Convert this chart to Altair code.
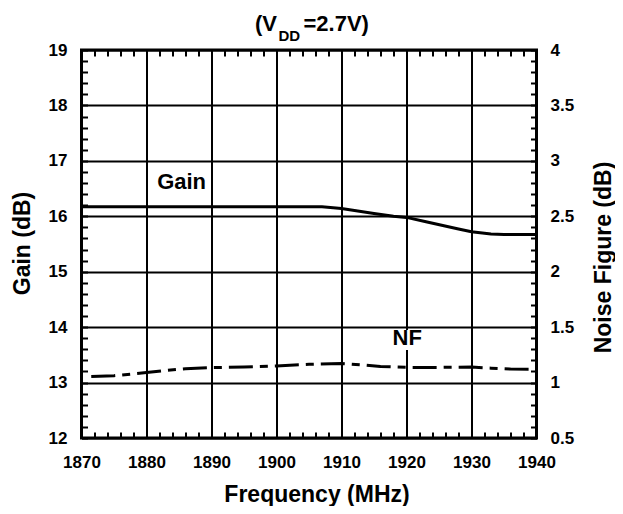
import altair as alt
import pandas as pd

FONT = "Liberation Sans"

# Gain curve (dB) vs frequency (MHz)
freq_gain = [1870, 1875, 1880, 1885, 1890, 1895, 1900, 1905, 1907, 1910, 1915,
             1918, 1920, 1923, 1928, 1930, 1933, 1935, 1940]
gain_db = [16.17, 16.17, 16.17, 16.17, 16.17, 16.17, 16.17, 16.17, 16.17, 16.14,
           16.05, 16.0, 15.98, 15.9, 15.77, 15.72, 15.68, 15.67, 15.67]

# Noise figure curve (dB) vs frequency (MHz)
freq_nf = [1871.5, 1875, 1880, 1883, 1886, 1890, 1895, 1900, 1905, 1910, 1913,
           1916, 1920, 1925, 1930, 1933, 1936, 1940]
nf_db = [1.055, 1.062, 1.09, 1.11, 1.125, 1.135, 1.14, 1.15, 1.165, 1.173, 1.16,
         1.145, 1.137, 1.137, 1.14, 1.13, 1.122, 1.12]

# In-plot curve labels
label_text = ["Gain", "NF"]
label_freq = [1885.4, 1920.1]
label_gain = [16.49, 13.68]

# Title pieces
title_parts = ["(V", "DD", "=2.7V)"]

# Axis ticks
x_ticks = list(range(1870, 1941, 10))
gain_ticks = list(range(12, 20))
nf_ticks = [0.5, 1, 1.5, 2, 2.5, 3, 3.5, 4]
x_minor = list(range(1870, 1941, 2))
gain_minor = [round(12 + 0.2 * i, 1) for i in range(36)]

gain_df = pd.DataFrame({"freq": freq_gain, "gain": gain_db})
nf_df = pd.DataFrame({"freq": freq_nf, "nf": nf_db})
lab_df = pd.DataFrame({"label": label_text, "freq": label_freq, "gain": label_gain})

xs = alt.Scale(domain=[1870, 1940], nice=False, zero=False)
gs = alt.Scale(domain=[12, 19], nice=False, zero=False)
ns = alt.Scale(domain=[0.5, 4], nice=False, zero=False)

lab_style = dict(labelFont=FONT, labelFontSize=17, labelFontWeight="bold",
                 labelColor="black", labelOverlap=False, labelFlush=False)
title_style = dict(titleFont=FONT, titleFontSize=23, titleFontWeight="bold",
                   titleColor="black")
grid_style = dict(grid=True, gridColor="black", gridWidth=2, gridOpacity=1)

x_main = alt.Axis(orient="bottom", values=x_ticks, format="d", ticks=False, domain=False,
                  labelPadding=29, labelBaseline="alphabetic",
                  title="Frequency (MHz)", titleX=235, titleY=63, titleAlign="center",
                  titleBaseline="alphabetic", **lab_style, **title_style, **grid_style)
y_main = alt.Axis(orient="left", values=gain_ticks, format="d", ticks=False, domain=False,
                  labelPadding=14.5, title="Gain (dB)", titleAngle=270, titleX=-52,
                  titleY=193, titleAlign="center", titleBaseline="alphabetic",
                  **lab_style, **title_style, **grid_style)
y_nf = alt.Axis(orient="right", values=nf_ticks, format="~g", ticks=False, domain=False,
                grid=False, labelPadding=13.5, labelAlign="left",
                title="Noise Figure (dB)", titleAngle=270, titleX=74, titleY=207,
                titleAlign="center", titleBaseline="alphabetic", **lab_style, **title_style)

minor_common = dict(labels=False, domain=False, grid=False, ticks=True, tickSize=6,
                    tickWidth=2, tickColor="black", offset=-6)

gain_line = alt.Chart(gain_df).mark_line(color="black", strokeWidth=3).encode(
    x=alt.X("freq:Q", scale=xs, axis=x_main),
    y=alt.Y("gain:Q", scale=gs, axis=y_main),
)

nf_line = alt.Chart(nf_df).mark_line(color="black", strokeWidth=3,
                                     strokeDash=[24, 7, 8, 7]).encode(
    x=alt.X("freq:Q", scale=xs, axis=None),
    y=alt.Y("nf:Q", scale=ns, axis=y_nf),
)

minor_a = alt.Chart(gain_df).mark_line(opacity=0).encode(
    x=alt.X("freq:Q", scale=xs, title=None,
            axis=alt.Axis(orient="top", values=x_minor, **minor_common)),
    y=alt.Y("gain:Q", scale=gs, title=None,
            axis=alt.Axis(orient="left", values=gain_minor, **minor_common)),
)
minor_b = alt.Chart(gain_df).mark_line(opacity=0).encode(
    x=alt.X("freq:Q", scale=xs, title=None,
            axis=alt.Axis(orient="bottom", values=x_minor, **minor_common)),
    y=alt.Y("gain:Q", scale=gs, title=None,
            axis=alt.Axis(orient="right", values=gain_minor, **minor_common)),
)

nf_box = alt.Chart(lab_df).transform_filter(alt.datum.label == "NF").mark_point(
    shape="M-1.8,-1.5H1.8V0.5H-1.8Z", size=400, filled=True, fill="white",
    strokeWidth=0, opacity=1).encode(
    x=alt.X("freq:Q", scale=xs, axis=None),
    y=alt.Y("gain:Q", scale=gs, axis=None),
)

labels = alt.Chart(lab_df).mark_text(font=FONT, fontSize=22, fontWeight="bold",
                                     color="black", align="center",
                                     baseline="alphabetic").encode(
    x=alt.X("freq:Q", scale=xs, axis=None),
    y=alt.Y("gain:Q", scale=gs, axis=None),
    text="label:N",
)

t1 = alt.Chart(pd.DataFrame({"t": [title_parts[0]]})).mark_text(
    font=FONT, fontSize=22, fontWeight="bold", color="black", align="right",
    baseline="alphabetic").encode(text="t:N", x=alt.value(195.5), y=alt.value(-19))
t2 = alt.Chart(pd.DataFrame({"t": [title_parts[1]]})).mark_text(
    font=FONT, fontSize=15, fontWeight="bold", color="black", align="left",
    baseline="alphabetic").encode(text="t:N", x=alt.value(197), y=alt.value(-9))
t3 = alt.Chart(pd.DataFrame({"t": [title_parts[2]]})).mark_text(
    font=FONT, fontSize=22, fontWeight="bold", color="black", align="left",
    baseline="alphabetic").encode(text="t:N", x=alt.value(222), y=alt.value(-19))

chart = alt.layer(
    gain_line, minor_a, minor_b, nf_line, nf_box, labels, t1, t2, t3
).resolve_scale(
    y="independent"
).resolve_axis(
    x="independent", y="independent"
).properties(
    width=455, height=388,
    autosize=alt.AutoSizeParams(type="none"),
    padding={"left": 73.5, "top": 42, "right": 78.5, "bottom": 68},
    background="white",
).configure_view(
    stroke="black", strokeWidth=3
)

chart.save("out.html", embed_options={"renderer": "svg", "actions": False})
